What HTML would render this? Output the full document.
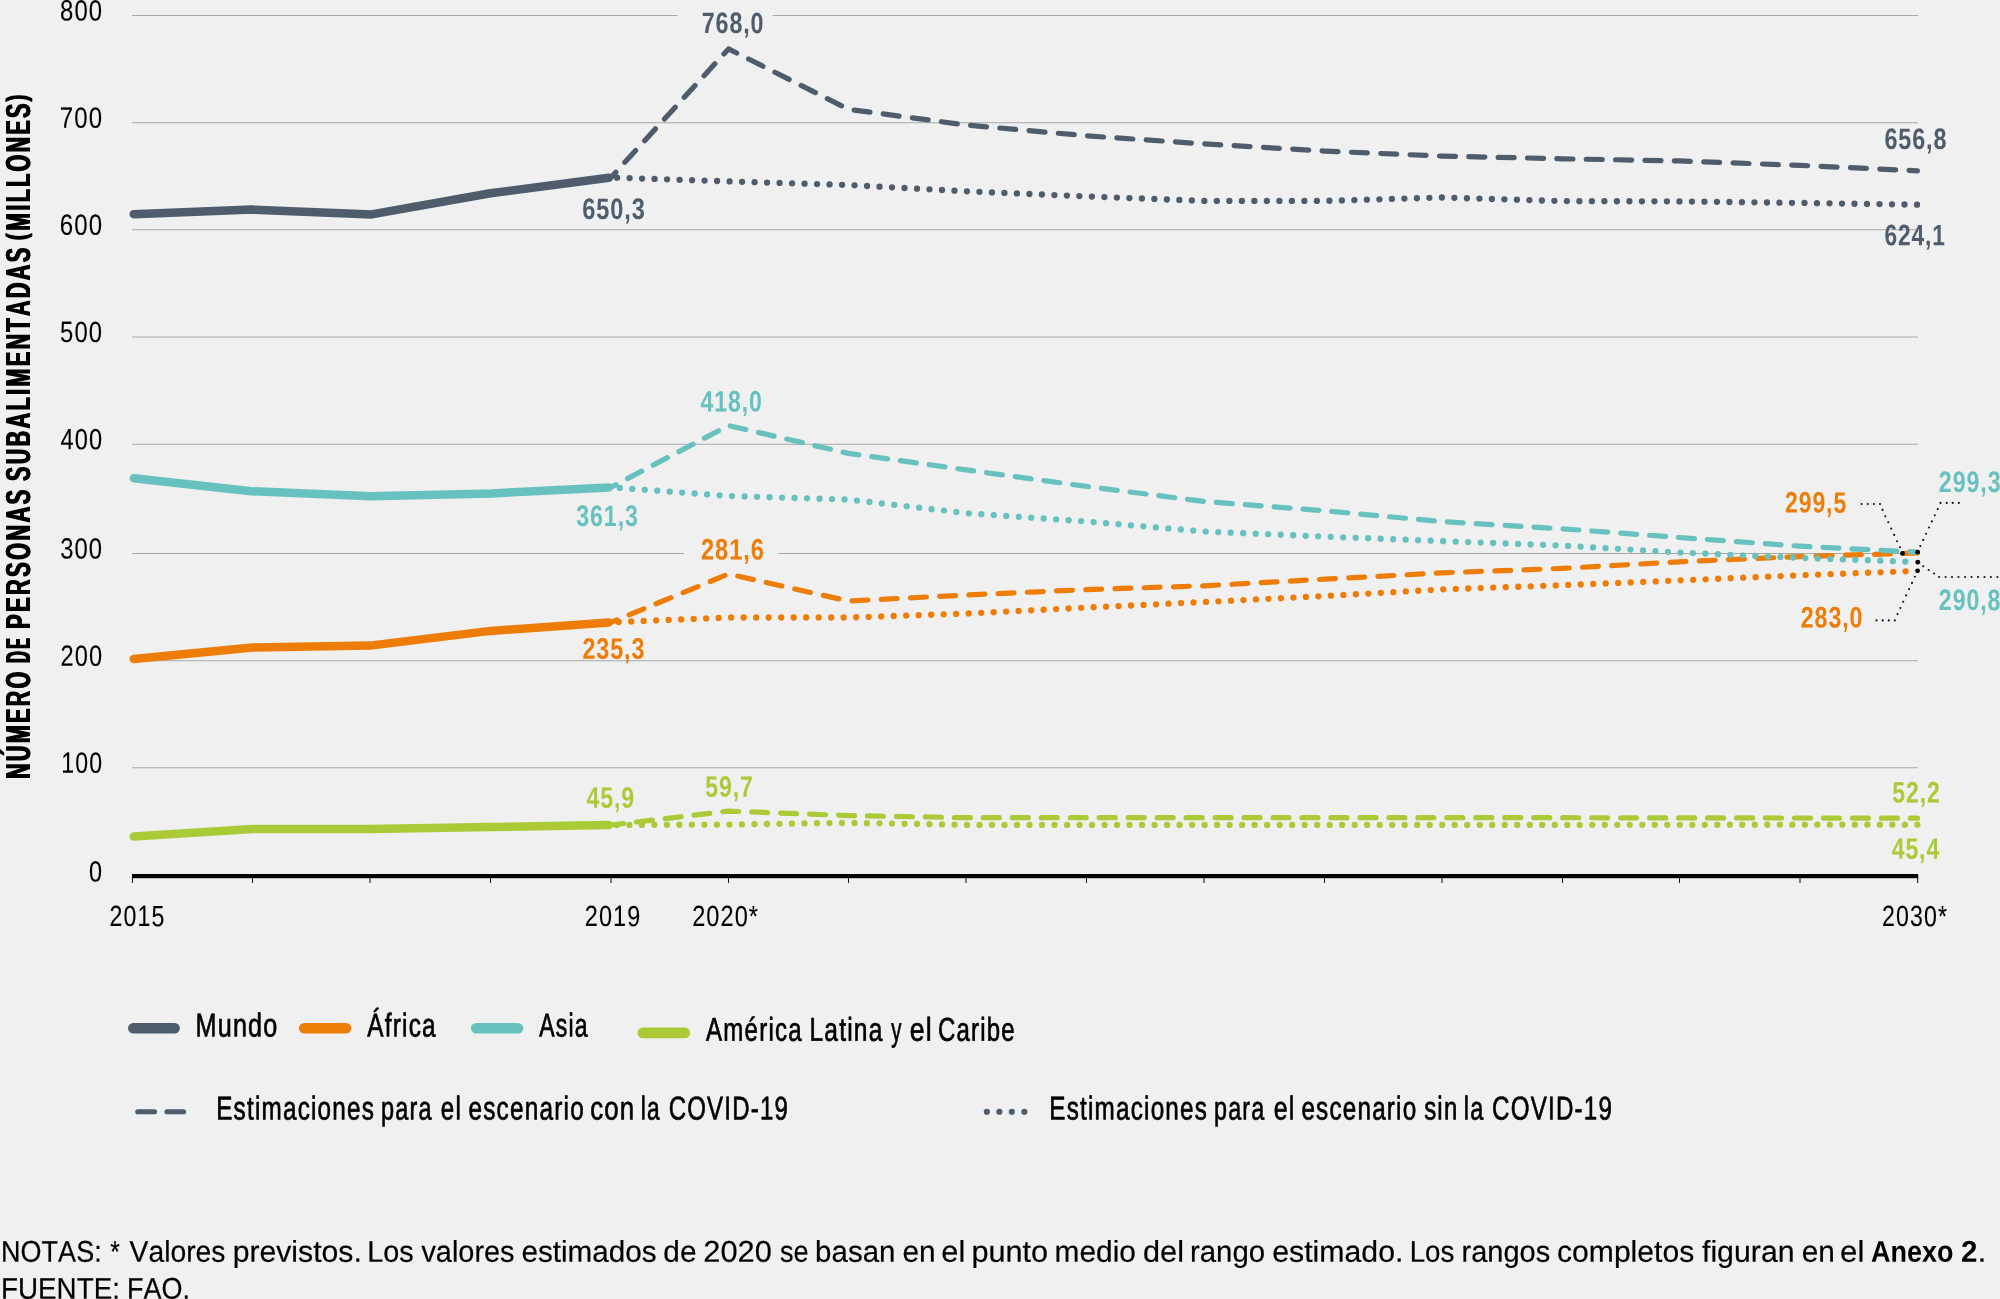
<!DOCTYPE html>
<html lang="es"><head><meta charset="utf-8"><title>Figura</title>
<style>
html,body{margin:0;padding:0;background:#f0f0f0;}
body{width:2000px;height:1299px;overflow:hidden;font-family:"Liberation Sans",sans-serif;}
svg{display:block;font-family:"Liberation Sans",sans-serif;font-kerning:none;will-change:transform;}
text{font-kerning:none;text-rendering:geometricPrecision;}
</style></head><body>
<svg width="2000" height="1299" viewBox="0 0 2000 1299">
<rect width="2000" height="1299" fill="#f0f0f0"/>
<g stroke="#a8a8a8" stroke-width="1.04" fill="none">
<line x1="132" y1="15.5" x2="1918" y2="15.5"/>
<line x1="132" y1="122.67" x2="1918" y2="122.67"/>
<line x1="132" y1="229.83" x2="1918" y2="229.83"/>
<line x1="132" y1="337.0" x2="1918" y2="337.0"/>
<line x1="132" y1="444.17" x2="1918" y2="444.17"/>
<line x1="132" y1="553.5" x2="1918" y2="553.5"/>
<line x1="132" y1="660.67" x2="1918" y2="660.67"/>
<line x1="132" y1="767.85" x2="1918" y2="767.85"/>
</g>
<rect x="677.7" y="10" width="94.8" height="12" fill="#f0f0f0"/>
<rect x="683.9" y="548" width="94.5" height="12" fill="#f0f0f0"/>
<text transform="matrix(0.8156 0.0005 0 1 60.01 20.50)" font-size="29.3" fill="#000" stroke="#000" stroke-width="0.1" stroke-linejoin="round" vector-effect="non-scaling-stroke" letter-spacing="1.349">800</text>
<text transform="matrix(0.8197 0.0005 0 1 59.82 127.67)" font-size="29.3" fill="#000" stroke="#000" stroke-width="0.1" stroke-linejoin="round" vector-effect="non-scaling-stroke" letter-spacing="1.342">700</text>
<text transform="matrix(0.8194 0.0005 0 1 59.83 234.83)" font-size="29.3" fill="#000" stroke="#000" stroke-width="0.1" stroke-linejoin="round" vector-effect="non-scaling-stroke" letter-spacing="1.342">600</text>
<text transform="matrix(0.8139 0.0005 0 1 60.10 342.00)" font-size="29.3" fill="#000" stroke="#000" stroke-width="0.1" stroke-linejoin="round" vector-effect="non-scaling-stroke" letter-spacing="1.352">500</text>
<text transform="matrix(0.8052 0.0005 0 1 60.51 449.17)" font-size="29.3" fill="#000" stroke="#000" stroke-width="0.1" stroke-linejoin="round" vector-effect="non-scaling-stroke" letter-spacing="1.366">400</text>
<text transform="matrix(0.8129 0.0005 0 1 60.14 558.50)" font-size="29.3" fill="#000" stroke="#000" stroke-width="0.1" stroke-linejoin="round" vector-effect="non-scaling-stroke" letter-spacing="1.353">300</text>
<text transform="matrix(0.8062 0.0005 0 1 60.46 665.67)" font-size="29.3" fill="#000" stroke="#000" stroke-width="0.1" stroke-linejoin="round" vector-effect="non-scaling-stroke" letter-spacing="1.364">200</text>
<text transform="matrix(0.7888 0.0005 0 1 61.29 772.85)" font-size="29.3" fill="#000" stroke="#000" stroke-width="0.1" stroke-linejoin="round" vector-effect="non-scaling-stroke" letter-spacing="1.394">100</text>
<text transform="matrix(0.7996 0.0005 0 1 88.93 881.40)" font-size="29.3" fill="#000" stroke="#000" stroke-width="0.1" stroke-linejoin="round" vector-effect="non-scaling-stroke">0</text>
<g transform="translate(29.9 778.5) rotate(-90)">
<text transform="matrix(0.6175 0.0005 0 1 -1.03 0.00)" font-size="34.7" fill="#000" font-weight="700" letter-spacing="3.887">NÚMERO</text>
<text transform="matrix(0.6175 0.0005 0 1 -0.43 0.00)" font-size="34.7" fill="#000" font-weight="700" letter-spacing="3.887">NÚMERO</text>
<text transform="matrix(0.6175 0.0005 0 1 0.17 0.00)" font-size="34.7" fill="#000" font-weight="700" letter-spacing="3.887">NÚMERO</text>
<text transform="matrix(0.4649 0.0005 0 1 115.12 0.00)" font-size="34.7" fill="#000" font-weight="700" letter-spacing="5.163">DE</text>
<text transform="matrix(0.4649 0.0005 0 1 115.72 0.00)" font-size="34.7" fill="#000" font-weight="700" letter-spacing="5.163">DE</text>
<text transform="matrix(0.4649 0.0005 0 1 116.32 0.00)" font-size="34.7" fill="#000" font-weight="700" letter-spacing="5.163">DE</text>
<text transform="matrix(0.6280 0.0005 0 1 149.04 0.00)" font-size="34.7" fill="#000" font-weight="700" letter-spacing="3.821">PERSONAS</text>
<text transform="matrix(0.6280 0.0005 0 1 149.64 0.00)" font-size="34.7" fill="#000" font-weight="700" letter-spacing="3.821">PERSONAS</text>
<text transform="matrix(0.6280 0.0005 0 1 150.24 0.00)" font-size="34.7" fill="#000" font-weight="700" letter-spacing="3.821">PERSONAS</text>
<text transform="matrix(0.6202 0.0005 0 1 296.88 0.00)" font-size="34.7" fill="#000" font-weight="700" letter-spacing="3.870">SUBALIMENTADAS</text>
<text transform="matrix(0.6202 0.0005 0 1 297.48 0.00)" font-size="34.7" fill="#000" font-weight="700" letter-spacing="3.870">SUBALIMENTADAS</text>
<text transform="matrix(0.6202 0.0005 0 1 298.08 0.00)" font-size="34.7" fill="#000" font-weight="700" letter-spacing="3.870">SUBALIMENTADAS</text>
<text transform="matrix(0.6150 0.0005 0 1 547.17 0.00)" font-size="34.7" fill="#000" font-weight="700" letter-spacing="3.902">MILLONES</text>
<text transform="matrix(0.6150 0.0005 0 1 547.77 0.00)" font-size="34.7" fill="#000" font-weight="700" letter-spacing="3.902">MILLONES</text>
<text transform="matrix(0.6150 0.0005 0 1 548.37 0.00)" font-size="34.7" fill="#000" font-weight="700" letter-spacing="3.902">MILLONES</text>
<text transform="matrix(0.7512 0.0005 0 1 537.74 -3.60)" font-size="28.3" fill="#000" font-weight="700">(</text>
<text transform="matrix(0.7512 0.0005 0 1 538.14 -3.60)" font-size="28.3" fill="#000" font-weight="700">(</text>
<text transform="matrix(0.7512 0.0005 0 1 538.54 -3.60)" font-size="28.3" fill="#000" font-weight="700">(</text>
<text transform="matrix(0.7637 0.0005 0 1 676.38 -3.60)" font-size="28.3" fill="#000" font-weight="700">)</text>
<text transform="matrix(0.7637 0.0005 0 1 676.78 -3.60)" font-size="28.3" fill="#000" font-weight="700">)</text>
<text transform="matrix(0.7637 0.0005 0 1 677.18 -3.60)" font-size="28.3" fill="#000" font-weight="700">)</text>
</g>
<g fill="none" stroke="#4e5c6c" stroke-linecap="round" stroke-linejoin="round">
<polyline points="611.0,177.5 728.5,181.4 848.5,185.0 966.0,191.3 1086.5,196.4 1204.0,200.9 1324.5,200.9 1442.0,197.5 1562.5,201.1 1679.5,201.4 1800.0,202.9 1917.5,204.7" stroke-width="6.3" stroke-dasharray="0 12.505" stroke-dashoffset="6.41"/>
<polyline points="611.0,177.5 728.5,48.9 848.5,109.3 966.0,125.0 1086.5,135.8 1204.0,143.9 1324.5,151.1 1442.0,156.1 1562.5,158.8 1679.5,160.9 1800.0,165.4 1917.5,170.8" stroke-width="5.2" stroke-dasharray="16.0 13.370000000000001" stroke-dashoffset="8.87"/>
<polyline points="133.7,214.2 251.5,209.6 371.5,214.4 490.4,193.3 608.8,177.8" stroke-width="8.5"/>
</g>
<g fill="none" stroke="#aacb37" stroke-linecap="round" stroke-linejoin="round">
<polyline points="611.0,825.0 728.5,824.6 848.5,822.8 966.0,824.9 1086.5,824.9 1204.0,824.9 1324.5,824.9 1442.0,824.9 1562.5,824.9 1679.5,824.8 1800.0,824.7 1917.5,824.7" stroke-width="6.3" stroke-dasharray="0 12.505" stroke-dashoffset="6.61"/>
<polyline points="611.0,825.0 728.5,811.1 848.5,815.6 966.0,817.7 1086.5,817.7 1204.0,817.7 1324.5,817.7 1442.0,817.7 1562.5,817.7 1679.5,817.9 1800.0,818.0 1917.5,818.2" stroke-width="5.2" stroke-dasharray="16.0 12.969999999999999" stroke-dashoffset="3.37"/>
<polyline points="133.7,836.5 252.5,829.1 370.0,829.1 490.5,827.0 608.8,825.0" stroke-width="8.5"/>
</g>
<g fill="none" stroke="#ee7d08" stroke-linecap="round" stroke-linejoin="round">
<polyline points="611.0,622.3 728.5,617.5 848.5,617.5 966.0,613.6 1086.5,607.6 1204.0,602.0 1324.5,596.0 1442.0,589.4 1562.5,585.2 1679.5,580.4 1800.0,575.3 1917.5,570.9" stroke-width="6.3" stroke-dasharray="0 12.505" stroke-dashoffset="4.81"/>
<polyline points="611.0,622.3 728.5,574.0 848.5,601.0 966.0,595.0 1086.5,589.6 1204.0,585.8 1324.5,579.2 1442.0,572.9 1562.5,568.4 1679.5,561.8 1800.0,556.6 1917.5,553.0" stroke-width="5.2" stroke-dasharray="16.0 13.25" stroke-dashoffset="9.75"/>
<polyline points="133.7,658.9 252.5,647.4 370.0,645.6 490.5,630.9 608.8,622.5" stroke-width="8.5"/>
</g>
<g fill="none" stroke="#67c1bf" stroke-linecap="round" stroke-linejoin="round">
<polyline points="611.0,487.3 728.5,496.0 848.5,499.6 966.0,513.1 1086.5,521.5 1204.0,531.5 1324.5,536.6 1442.0,541.1 1562.5,545.6 1679.5,552.5 1800.0,557.9 1917.5,562.0" stroke-width="6.3" stroke-dasharray="0 12.505" stroke-dashoffset="3.66"/>
<polyline points="611.0,487.3 728.5,425.5 848.5,453.4 966.0,469.9 1086.5,486.4 1204.0,501.5 1324.5,510.8 1442.0,521.6 1562.5,528.8 1679.5,537.5 1800.0,546.2 1917.5,552.1" stroke-width="5.2" stroke-dasharray="16.0 12.969999999999999" stroke-dashoffset="10.27"/>
<polyline points="133.7,478.2 251.4,491.2 371.0,496.2 491.5,493.4 608.8,487.4" stroke-width="8.5"/>
</g>
<rect x="132" y="874" width="1786.2" height="4.2" fill="#000"/>
<g stroke="#111" stroke-width="1.04">
<line x1="132.45" y1="876" x2="132.45" y2="882.9"/>
<line x1="252.5" y1="876" x2="252.5" y2="882.9"/>
<line x1="370" y1="876" x2="370" y2="882.9"/>
<line x1="490.5" y1="876" x2="490.5" y2="882.9"/>
<line x1="611" y1="876" x2="611" y2="882.9"/>
<line x1="728.5" y1="876" x2="728.5" y2="882.9"/>
<line x1="848.5" y1="876" x2="848.5" y2="882.9"/>
<line x1="966" y1="876" x2="966" y2="882.9"/>
<line x1="1086.5" y1="876" x2="1086.5" y2="882.9"/>
<line x1="1204" y1="876" x2="1204" y2="882.9"/>
<line x1="1324.5" y1="876" x2="1324.5" y2="882.9"/>
<line x1="1442" y1="876" x2="1442" y2="882.9"/>
<line x1="1562.5" y1="876" x2="1562.5" y2="882.9"/>
<line x1="1679.5" y1="876" x2="1679.5" y2="882.9"/>
<line x1="1800" y1="876" x2="1800" y2="882.9"/>
<line x1="1917.65" y1="876" x2="1917.65" y2="882.9"/>
</g>
<text transform="matrix(0.7891 0.0005 0 1 109.59 926.10)" font-size="29.3" fill="#000" stroke="#000" stroke-width="0.1" stroke-linejoin="round" vector-effect="non-scaling-stroke" letter-spacing="1.394">2015</text>
<text transform="matrix(0.8007 0.0005 0 1 584.77 926.10)" font-size="29.3" fill="#000" stroke="#000" stroke-width="0.1" stroke-linejoin="round" vector-effect="non-scaling-stroke" letter-spacing="1.374">2019</text>
<text transform="matrix(0.8024 0.0005 0 1 692.17 926.10)" font-size="29.3" fill="#000" stroke="#000" stroke-width="0.1" stroke-linejoin="round" vector-effect="non-scaling-stroke" letter-spacing="1.371">2020*</text>
<text transform="matrix(0.7903 0.0005 0 1 1882.09 926.10)" font-size="29.3" fill="#000" stroke="#000" stroke-width="0.1" stroke-linejoin="round" vector-effect="non-scaling-stroke" letter-spacing="1.392">2030*</text>
<text transform="matrix(0.7858 0.0005 0 1 701.75 33.10)" font-size="29.6" fill="#4e5c6c" font-weight="700" letter-spacing="1.145">768,0</text>
<text transform="matrix(0.7960 0.0005 0 1 582.19 218.90)" font-size="29.6" fill="#4e5c6c" font-weight="700" letter-spacing="1.131">650,3</text>
<text transform="matrix(0.7887 0.0005 0 1 1884.40 148.90)" font-size="29.6" fill="#4e5c6c" font-weight="700" letter-spacing="1.141">656,8</text>
<text transform="matrix(0.7684 0.0005 0 1 1884.42 245.30)" font-size="29.6" fill="#4e5c6c" font-weight="700" letter-spacing="1.171">624,1</text>
<text transform="matrix(0.7782 0.0005 0 1 700.60 411.50)" font-size="29.6" fill="#67c1bf" font-weight="700" letter-spacing="1.157">418,0</text>
<text transform="matrix(0.7819 0.0005 0 1 576.32 525.90)" font-size="29.6" fill="#67c1bf" font-weight="700" letter-spacing="1.151">361,3</text>
<text transform="matrix(0.7843 0.0005 0 1 1938.85 491.90)" font-size="29.6" fill="#67c1bf" font-weight="700" letter-spacing="1.148">299,3</text>
<text transform="matrix(0.7826 0.0005 0 1 1938.85 610.10)" font-size="29.6" fill="#67c1bf" font-weight="700" letter-spacing="1.150">290,8</text>
<text transform="matrix(0.7996 0.0005 0 1 701.03 559.40)" font-size="29.6" fill="#ee7d08" font-weight="700" letter-spacing="1.126">281,6</text>
<text transform="matrix(0.7885 0.0005 0 1 582.44 658.80)" font-size="29.6" fill="#ee7d08" font-weight="700" letter-spacing="1.141">235,3</text>
<text transform="matrix(0.7788 0.0005 0 1 1784.95 512.60)" font-size="29.6" fill="#ee7d08" font-weight="700" letter-spacing="1.156">299,5</text>
<text transform="matrix(0.7859 0.0005 0 1 1800.74 627.50)" font-size="29.6" fill="#ee7d08" font-weight="700" letter-spacing="1.145">283,0</text>
<text transform="matrix(0.7804 0.0005 0 1 586.50 807.80)" font-size="29.6" fill="#aacb37" font-weight="700" letter-spacing="1.153">45,9</text>
<text transform="matrix(0.7789 0.0005 0 1 705.24 796.70)" font-size="29.6" fill="#aacb37" font-weight="700" letter-spacing="1.155">59,7</text>
<text transform="matrix(0.7773 0.0005 0 1 1892.24 802.50)" font-size="29.6" fill="#aacb37" font-weight="700" letter-spacing="1.158">52,2</text>
<text transform="matrix(0.7780 0.0005 0 1 1891.70 858.70)" font-size="29.6" fill="#aacb37" font-weight="700" letter-spacing="1.157">45,4</text>
<g fill="#111">
<circle cx="1861.6" cy="504.0" r="1.05"/>
<circle cx="1867.8" cy="504.0" r="1.05"/>
<circle cx="1873.9" cy="504.0" r="1.05"/>
<circle cx="1880.0" cy="504.0" r="1.05"/>
<circle cx="1882.5" cy="509.9" r="1.05"/>
<circle cx="1885.3" cy="516.2" r="1.05"/>
<circle cx="1888.3" cy="522.3" r="1.05"/>
<circle cx="1891.2" cy="528.6" r="1.05"/>
<circle cx="1894.2" cy="534.9" r="1.05"/>
<circle cx="1897.1" cy="541.2" r="1.05"/>
<circle cx="1899.9" cy="547.3" r="1.05"/>
<circle cx="1920.3" cy="546.0" r="1.05"/>
<circle cx="1923.2" cy="539.9" r="1.05"/>
<circle cx="1926.1" cy="533.8" r="1.05"/>
<circle cx="1929.0" cy="527.5" r="1.05"/>
<circle cx="1931.9" cy="521.4" r="1.05"/>
<circle cx="1934.8" cy="515.2" r="1.05"/>
<circle cx="1937.7" cy="509.1" r="1.05"/>
<circle cx="1940.5" cy="502.9" r="1.05"/>
<circle cx="1946.7" cy="502.9" r="1.05"/>
<circle cx="1952.7" cy="502.9" r="1.05"/>
<circle cx="1958.8" cy="502.9" r="1.05"/>
<circle cx="1923.3" cy="566.2" r="1.05"/>
<circle cx="1928.7" cy="570.0" r="1.05"/>
<circle cx="1934.1" cy="573.5" r="1.05"/>
<circle cx="1939.1" cy="577.0" r="1.05"/>
<circle cx="1945.6" cy="577.0" r="1.05"/>
<circle cx="1952.0" cy="577.0" r="1.05"/>
<circle cx="1958.5" cy="577.0" r="1.05"/>
<circle cx="1965.1" cy="577.0" r="1.05"/>
<circle cx="1971.6" cy="577.0" r="1.05"/>
<circle cx="1978.0" cy="577.0" r="1.05"/>
<circle cx="1984.5" cy="577.0" r="1.05"/>
<circle cx="1990.9" cy="577.0" r="1.05"/>
<circle cx="1997.4" cy="577.0" r="1.05"/>
<circle cx="1914.9" cy="576.7" r="1.05"/>
<circle cx="1912.0" cy="582.9" r="1.05"/>
<circle cx="1909.1" cy="589.1" r="1.05"/>
<circle cx="1906.1" cy="595.4" r="1.05"/>
<circle cx="1903.2" cy="601.7" r="1.05"/>
<circle cx="1900.4" cy="608.0" r="1.05"/>
<circle cx="1897.5" cy="614.1" r="1.05"/>
<circle cx="1894.8" cy="620.4" r="1.05"/>
<circle cx="1888.8" cy="620.4" r="1.05"/>
<circle cx="1882.7" cy="620.4" r="1.05"/>
<circle cx="1876.5" cy="620.4" r="1.05"/>
</g>
<circle cx="1902.5" cy="553.4" r="2.4" fill="#000"/>
<circle cx="1917.6" cy="552.2" r="2.4" fill="#000"/>
<circle cx="1917.8" cy="562.2" r="2.4" fill="#000"/>
<circle cx="1917.6" cy="570.8" r="2.4" fill="#000"/>
<line x1="133.3" y1="1028.3" x2="174.6" y2="1028.3" stroke="#4e5c6c" stroke-width="10.6" stroke-linecap="round"/>
<line x1="304.2" y1="1028.3" x2="346.1" y2="1028.3" stroke="#ee7d08" stroke-width="10.6" stroke-linecap="round"/>
<line x1="476.2" y1="1028.3" x2="518" y2="1028.3" stroke="#67c1bf" stroke-width="10.6" stroke-linecap="round"/>
<line x1="642.8" y1="1032.9" x2="684.9" y2="1032.9" stroke="#aacb37" stroke-width="10.6" stroke-linecap="round"/>
<text transform="matrix(0.7634 0.0005 0 1 195.48 1036.40)" font-size="33.0" fill="#000" stroke="#000" stroke-width="0.7" stroke-linejoin="round" vector-effect="non-scaling-stroke" letter-spacing="1.572">Mundo</text>
<text transform="matrix(0.7391 0.0005 0 1 367.30 1036.40)" font-size="33.0" fill="#000" stroke="#000" stroke-width="0.7" stroke-linejoin="round" vector-effect="non-scaling-stroke" letter-spacing="1.624">África</text>
<text transform="matrix(0.6970 0.0005 0 1 539.31 1036.40)" font-size="33.0" fill="#000" stroke="#000" stroke-width="0.7" stroke-linejoin="round" vector-effect="non-scaling-stroke" letter-spacing="1.722">Asia</text>
<text transform="matrix(0.7292 0.0005 0 1 706.10 1040.80)" font-size="33.0" fill="#000" stroke="#000" stroke-width="0.7" stroke-linejoin="round" vector-effect="non-scaling-stroke" letter-spacing="1.646">América</text>
<text transform="matrix(0.7442 0.0005 0 1 809.44 1040.80)" font-size="33.0" fill="#000" stroke="#000" stroke-width="0.7" stroke-linejoin="round" vector-effect="non-scaling-stroke" letter-spacing="1.612">Latina</text>
<text transform="matrix(0.6175 0.0005 0 1 891.30 1040.80)" font-size="33.0" fill="#000" stroke="#000" stroke-width="0.7" stroke-linejoin="round" vector-effect="non-scaling-stroke" letter-spacing="1.943">y</text>
<text transform="matrix(0.8063 0.0005 0 1 909.72 1040.80)" font-size="33.0" fill="#000" stroke="#000" stroke-width="0.7" stroke-linejoin="round" vector-effect="non-scaling-stroke" letter-spacing="1.488">el</text>
<text transform="matrix(0.7271 0.0005 0 1 937.93 1040.80)" font-size="33.0" fill="#000" stroke="#000" stroke-width="0.7" stroke-linejoin="round" vector-effect="non-scaling-stroke" letter-spacing="1.650">Caribe</text>
<g stroke="#4e5c6c" stroke-linecap="round" fill="none">
<line x1="137.8" y1="1111.75" x2="154.5" y2="1111.75" stroke-width="5.2"/>
<line x1="167" y1="1111.75" x2="183.5" y2="1111.75" stroke-width="5.2"/>
<line x1="986.85" y1="1111.75" x2="1025" y2="1111.75" stroke-width="6.2" stroke-dasharray="0 12.5"/>
</g>
<text transform="matrix(0.7367 0.0005 0 1 216.16 1119.40)" font-size="33.0" fill="#000" stroke="#000" stroke-width="0.7" stroke-linejoin="round" vector-effect="non-scaling-stroke" letter-spacing="1.629">Estimaciones</text>
<text transform="matrix(0.7118 0.0005 0 1 380.94 1119.40)" font-size="33.0" fill="#000" stroke="#000" stroke-width="0.7" stroke-linejoin="round" vector-effect="non-scaling-stroke" letter-spacing="1.686">para</text>
<text transform="matrix(0.7293 0.0005 0 1 440.83 1119.40)" font-size="33.0" fill="#000" stroke="#000" stroke-width="0.7" stroke-linejoin="round" vector-effect="non-scaling-stroke" letter-spacing="1.645">el</text>
<text transform="matrix(0.7391 0.0005 0 1 468.41 1119.40)" font-size="33.0" fill="#000" stroke="#000" stroke-width="0.7" stroke-linejoin="round" vector-effect="non-scaling-stroke" letter-spacing="1.624">escenario</text>
<text transform="matrix(0.7833 0.0005 0 1 590.15 1119.40)" font-size="33.0" fill="#000" stroke="#000" stroke-width="0.7" stroke-linejoin="round" vector-effect="non-scaling-stroke" letter-spacing="1.532">con</text>
<text transform="matrix(0.6862 0.0005 0 1 640.72 1119.40)" font-size="33.0" fill="#000" stroke="#000" stroke-width="0.7" stroke-linejoin="round" vector-effect="non-scaling-stroke" letter-spacing="1.749">la</text>
<text transform="matrix(0.7283 0.0005 0 1 668.63 1119.40)" font-size="33.0" fill="#000" stroke="#000" stroke-width="0.7" stroke-linejoin="round" vector-effect="non-scaling-stroke" letter-spacing="1.648">COVID-19</text>
<text transform="matrix(0.7362 0.0005 0 1 1049.26 1119.40)" font-size="33.0" fill="#000" stroke="#000" stroke-width="0.7" stroke-linejoin="round" vector-effect="non-scaling-stroke" letter-spacing="1.630">Estimaciones</text>
<text transform="matrix(0.7071 0.0005 0 1 1213.95 1119.40)" font-size="33.0" fill="#000" stroke="#000" stroke-width="0.7" stroke-linejoin="round" vector-effect="non-scaling-stroke" letter-spacing="1.697">para</text>
<text transform="matrix(0.7565 0.0005 0 1 1273.79 1119.40)" font-size="33.0" fill="#000" stroke="#000" stroke-width="0.7" stroke-linejoin="round" vector-effect="non-scaling-stroke" letter-spacing="1.586">el</text>
<text transform="matrix(0.7349 0.0005 0 1 1301.42 1119.40)" font-size="33.0" fill="#000" stroke="#000" stroke-width="0.7" stroke-linejoin="round" vector-effect="non-scaling-stroke" letter-spacing="1.633">escenario</text>
<text transform="matrix(0.7259 0.0005 0 1 1424.18 1119.40)" font-size="33.0" fill="#000" stroke="#000" stroke-width="0.7" stroke-linejoin="round" vector-effect="non-scaling-stroke" letter-spacing="1.653">sin</text>
<text transform="matrix(0.7118 0.0005 0 1 1463.77 1119.40)" font-size="33.0" fill="#000" stroke="#000" stroke-width="0.7" stroke-linejoin="round" vector-effect="non-scaling-stroke" letter-spacing="1.686">la</text>
<text transform="matrix(0.7324 0.0005 0 1 1492.02 1119.40)" font-size="33.0" fill="#000" stroke="#000" stroke-width="0.7" stroke-linejoin="round" vector-effect="non-scaling-stroke" letter-spacing="1.639">COVID-19</text>
<text transform="matrix(0.9006 0.0005 0 1 1.08 1261.70)" font-size="30" fill="#000" stroke="#000" stroke-width="0.2" stroke-linejoin="round" vector-effect="non-scaling-stroke">NOTAS:</text>
<text transform="matrix(0.8207 0.0005 0 1 110.30 1261.70)" font-size="30" fill="#000" stroke="#000" stroke-width="0.2" stroke-linejoin="round" vector-effect="non-scaling-stroke">*</text>
<text transform="matrix(0.9423 0.0005 0 1 129.58 1261.70)" font-size="30" fill="#000" stroke="#000" stroke-width="0.2" stroke-linejoin="round" vector-effect="non-scaling-stroke">Valores</text>
<text transform="matrix(1.0056 0.0005 0 1 232.66 1261.70)" font-size="30" fill="#000" stroke="#000" stroke-width="0.2" stroke-linejoin="round" vector-effect="non-scaling-stroke">previstos.</text>
<text transform="matrix(0.9593 0.0005 0 1 367.24 1261.70)" font-size="30" fill="#000" stroke="#000" stroke-width="0.2" stroke-linejoin="round" vector-effect="non-scaling-stroke">Los</text>
<text transform="matrix(0.9631 0.0005 0 1 421.40 1261.70)" font-size="30" fill="#000" stroke="#000" stroke-width="0.2" stroke-linejoin="round" vector-effect="non-scaling-stroke">valores</text>
<text transform="matrix(0.9883 0.0005 0 1 521.44 1261.70)" font-size="30" fill="#000" stroke="#000" stroke-width="0.2" stroke-linejoin="round" vector-effect="non-scaling-stroke">estimados</text>
<text transform="matrix(0.9943 0.0005 0 1 663.35 1261.70)" font-size="30" fill="#000" stroke="#000" stroke-width="0.2" stroke-linejoin="round" vector-effect="non-scaling-stroke">de</text>
<text transform="matrix(1.0272 0.0005 0 1 703.25 1261.70)" font-size="30" fill="#000" stroke="#000" stroke-width="0.2" stroke-linejoin="round" vector-effect="non-scaling-stroke">2020</text>
<text transform="matrix(0.9012 0.0005 0 1 780.05 1261.70)" font-size="30" fill="#000" stroke="#000" stroke-width="0.2" stroke-linejoin="round" vector-effect="non-scaling-stroke">se</text>
<text transform="matrix(0.9826 0.0005 0 1 815.10 1261.70)" font-size="30" fill="#000" stroke="#000" stroke-width="0.2" stroke-linejoin="round" vector-effect="non-scaling-stroke">basan</text>
<text transform="matrix(0.9918 0.0005 0 1 902.54 1261.70)" font-size="30" fill="#000" stroke="#000" stroke-width="0.2" stroke-linejoin="round" vector-effect="non-scaling-stroke">en</text>
<text transform="matrix(1.0265 0.0005 0 1 941.29 1261.70)" font-size="30" fill="#000" stroke="#000" stroke-width="0.2" stroke-linejoin="round" vector-effect="non-scaling-stroke">el</text>
<text transform="matrix(1.0225 0.0005 0 1 971.42 1261.70)" font-size="30" fill="#000" stroke="#000" stroke-width="0.2" stroke-linejoin="round" vector-effect="non-scaling-stroke">punto</text>
<text transform="matrix(0.9967 0.0005 0 1 1054.51 1261.70)" font-size="30" fill="#000" stroke="#000" stroke-width="0.2" stroke-linejoin="round" vector-effect="non-scaling-stroke">medio</text>
<text transform="matrix(1.0226 0.0005 0 1 1143.01 1261.70)" font-size="30" fill="#000" stroke="#000" stroke-width="0.2" stroke-linejoin="round" vector-effect="non-scaling-stroke">del</text>
<text transform="matrix(0.9799 0.0005 0 1 1189.95 1261.70)" font-size="30" fill="#000" stroke="#000" stroke-width="0.2" stroke-linejoin="round" vector-effect="non-scaling-stroke">rango</text>
<text transform="matrix(1.0091 0.0005 0 1 1272.21 1261.70)" font-size="30" fill="#000" stroke="#000" stroke-width="0.2" stroke-linejoin="round" vector-effect="non-scaling-stroke">estimado.</text>
<text transform="matrix(0.9236 0.0005 0 1 1409.63 1261.70)" font-size="30" fill="#000" stroke="#000" stroke-width="0.2" stroke-linejoin="round" vector-effect="non-scaling-stroke">Los</text>
<text transform="matrix(0.9656 0.0005 0 1 1461.58 1261.70)" font-size="30" fill="#000" stroke="#000" stroke-width="0.2" stroke-linejoin="round" vector-effect="non-scaling-stroke">rangos</text>
<text transform="matrix(1.0032 0.0005 0 1 1557.02 1261.70)" font-size="30" fill="#000" stroke="#000" stroke-width="0.2" stroke-linejoin="round" vector-effect="non-scaling-stroke">completos</text>
<text transform="matrix(1.0095 0.0005 0 1 1701.97 1261.70)" font-size="30" fill="#000" stroke="#000" stroke-width="0.2" stroke-linejoin="round" vector-effect="non-scaling-stroke">figuran</text>
<text transform="matrix(0.9918 0.0005 0 1 1801.64 1261.70)" font-size="30" fill="#000" stroke="#000" stroke-width="0.2" stroke-linejoin="round" vector-effect="non-scaling-stroke">en</text>
<text transform="matrix(1.0414 0.0005 0 1 1840.07 1261.70)" font-size="30" fill="#000" stroke="#000" stroke-width="0.2" stroke-linejoin="round" vector-effect="non-scaling-stroke">el</text>
<text transform="matrix(0.8996 0.0005 0 1 1871.08 1261.70)" font-size="30" fill="#000" font-weight="700">Anexo</text>
<text transform="matrix(0.9866 0.0005 0 1 1960.97 1261.70)" font-size="30" fill="#000" font-weight="700">2</text>
<text transform="matrix(1.0152 0.0005 0 1 1977.72 1261.70)" font-size="30" fill="#000" stroke="#000" stroke-width="0.2" stroke-linejoin="round" vector-effect="non-scaling-stroke">.</text>
<text transform="matrix(0.9266 0.0005 0 1 1.02 1298.80)" font-size="30" fill="#000" stroke="#000" stroke-width="0.2" stroke-linejoin="round" vector-effect="non-scaling-stroke">FUENTE:</text>
<text transform="matrix(0.9012 0.0005 0 1 126.88 1298.80)" font-size="30" fill="#000" stroke="#000" stroke-width="0.2" stroke-linejoin="round" vector-effect="non-scaling-stroke">FAO.</text>
</svg>
</body></html>
